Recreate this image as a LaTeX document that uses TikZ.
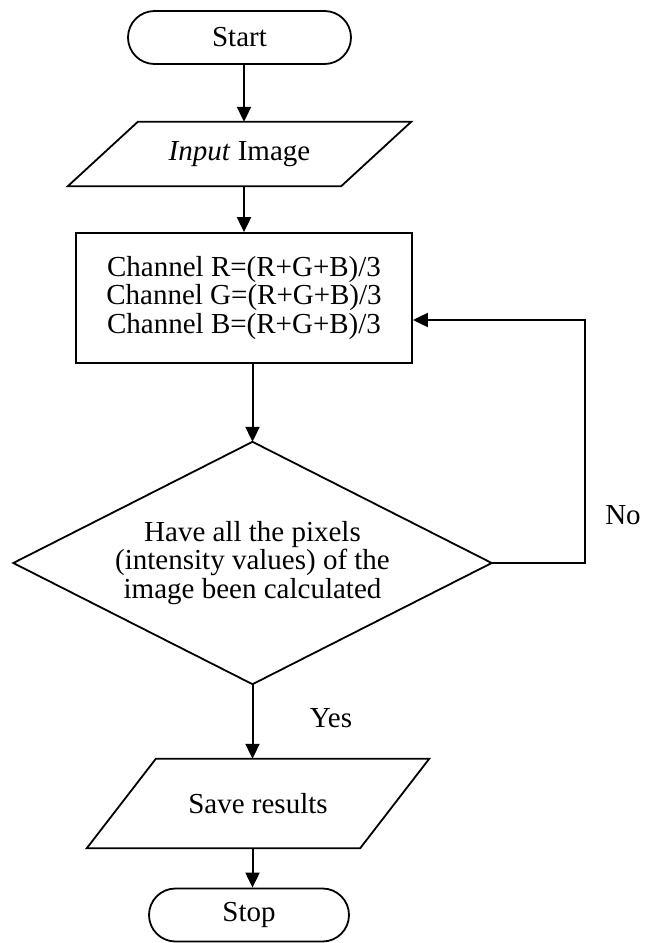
\documentclass[tikz,border=0pt]{standalone}
\usepackage{fontspec}
\setmainfont{Liberation Serif}
\usetikzlibrary{arrows.meta}
\begin{document}
\begin{tikzpicture}[x=1pt,y=-1pt,
  every node/.style={font=\fontsize{29}{28.5}\selectfont, inner sep=0pt},
  shapeline/.style={line width=1.8pt, line join=miter},
  termbox/.style={draw, shapeline, rounded corners=26.5pt},
  procbox/.style={draw, shapeline, align=center},
  ghost/.style={align=center},
  arr/.style={line width=2pt, -{Triangle[length=15pt,width=14pt]}},
  lbl/.style={anchor=center}
]
\useasboundingbox (0,0) rectangle (652,943);

% Start
\node[termbox, minimum width=223pt, minimum height=53pt] (start) at (239.5,37.5) {Start};

% Input parallelogram
\node[ghost, minimum width=273pt, minimum height=64pt] (in) at (239.5,154) {\textit{Input} Image};
\draw[shapeline] ([xshift=35pt]in.north west) -- ([xshift=35pt]in.north east)
  -- ([xshift=-35pt]in.south east) -- ([xshift=-35pt]in.south west) -- cycle;

% Process box
\node[procbox, minimum width=336pt, minimum height=130pt] (box) at (244,298)
  {Channel R=(R+G+B)/3\\Channel G=(R+G+B)/3\\Channel B=(R+G+B)/3};

% Decision diamond
\node[ghost, minimum width=478pt, minimum height=242pt] (dec) at (252.5,563)
  {Have all the pixels\\(intensity values) of the\\image been calculated};
\draw[shapeline] (dec.north) -- (dec.east) -- (dec.south) -- (dec.west) -- cycle;

% Save parallelogram
\node[ghost, minimum width=273pt, minimum height=89pt] (save) at (258,803.5) {Save results};
\draw[shapeline] ([xshift=34.5pt]save.north west) -- ([xshift=34.5pt]save.north east)
  -- ([xshift=-34.5pt]save.south east) -- ([xshift=-34.5pt]save.south west) -- cycle;

% Stop
\node[termbox, minimum width=200pt, minimum height=53pt] (stop) at (249,915) {Stop};

% Connectors
\coordinate (c1) at (244,0);
\coordinate (c2) at (252.5,0);
\draw[arr] (c1 |- start.south) -- (c1 |- in.north);
\draw[arr] (c1 |- in.south) -- (c1 |- box.north);
\draw[arr] (c2 |- box.south) -- (dec.north);
\draw[arr] (dec.south) -- (c2 |- save.north);
\draw[arr] (c2 |- save.south) -- (c2 |- stop.north);

\coordinate (loopx) at (585,0);
\coordinate (loopy) at (0,320);
\draw[arr] (dec.east) -- (loopx |- dec.east) -- (loopx |- loopy) -- (box.east |- loopy);

% Labels
\node[lbl] (no) at (623,515) {No};
\node[lbl] (yes) at (331,718) {Yes};
\end{tikzpicture}
\end{document}
